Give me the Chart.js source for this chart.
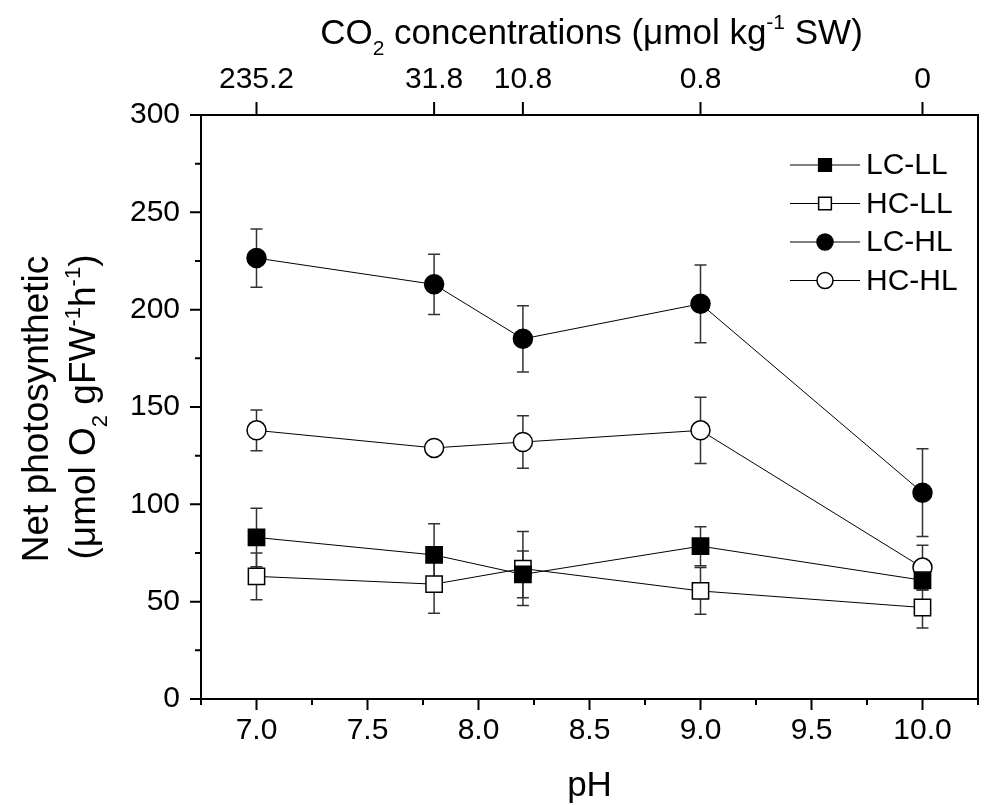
<!DOCTYPE html>
<html lang="en">
<head>
<meta charset="UTF-8">
<title>Net photosynthetic vs pH</title>
<script src="https://cdn.jsdelivr.net/npm/chart.js@4.4.0/dist/chart.umd.min.js"></script>
<style>
  body { margin: 0; background: #fff; }
  #wrap { width: 992px; height: 805px; }
</style>
</head>
<body>
<div id="wrap"><canvas id="chart" width="992" height="805"></canvas></div>
<script>
// pH values and matching CO2 concentrations (top axis)
const phValues = [7.0, 7.8, 8.2, 9.0, 10.0];
const co2Labels = ['235.2', '31.8', '10.8', '0.8', '0'];

// series (mean and error)
const seriesNames = ['LC-LL', 'HC-LL', 'LC-HL', 'HC-HL'];
const lcLL = [83, 74, 64, 78.5, 61];
const lcLLErr = [15, 16, 12, 10, 5];
const hcLL = [63, 59, 67, 55.5, 47];
const hcLLErr = [12, 15, 19, 12, 10.5];
const lcHL = [226.5, 213, 185, 203, 106];
const lcHLErr = [15, 15.5, 17, 20, 22.5];
const hcHL = [138, 129, 132, 138, 67.5];
const hcHLErr = [10.5, 3, 13.5, 17, 11.5];

const FONT = '"Liberation Sans", Arial, sans-serif';

function pts(vals) {
    return vals.map((v, i) => ({ x: phValues[i], y: v }));
}

function makeSet(label, vals, errs, style, fill, radius) {
    return {
        label: label,
        data: pts(vals),
        errors: errs,
        borderColor: '#000',
        borderWidth: 1,
        tension: 0,
        pointStyle: style,
        pointRadius: radius,
        pointBackgroundColor: fill,
        pointBorderColor: '#000',
        pointBorderWidth: 1.5
    };
}

// text with sub/superscripts: segments [text, 'n'|'sub'|'sup']
function richWidth(ctx, segs, size) {
    let w = 0;
    segs.forEach(s => {
        ctx.font = (s[1] === 'n' ? size : Math.round(size * 0.6)) + 'px ' + FONT;
        w += ctx.measureText(s[0]).width;
    });
    return w;
}
function drawRich(ctx, segs, cx, cy, size) {
    let x = cx - richWidth(ctx, segs, size) / 2;
    ctx.textAlign = 'left';
    ctx.textBaseline = 'alphabetic';
    const base = cy + size * 0.36;
    segs.forEach(s => {
        let dy = 0;
        if (s[1] === 'n') ctx.font = size + 'px ' + FONT;
        else ctx.font = Math.round(size * 0.6) + 'px ' + FONT;
        if (s[1] === 'sub') dy = size * 0.32;
        if (s[1] === 'sup') dy = -size * 0.42;
        ctx.fillText(s[0], x, base + dy);
        x += ctx.measureText(s[0]).width;
    });
}

// error bars behind the markers
const errorBars = {
    id: 'errorBars',
    beforeDatasetsDraw(chart) {
        const ctx = chart.ctx, xs = chart.scales.x, ys = chart.scales.y;
        ctx.save();
        ctx.strokeStyle = '#333';
        ctx.lineWidth = 1.5;
        chart.data.datasets.forEach(ds => {
            ds.data.forEach((p, i) => {
                const e = ds.errors[i];
                const px = xs.getPixelForValue(p.x);
                const top = ys.getPixelForValue(p.y + e);
                const bot = ys.getPixelForValue(p.y - e);
                ctx.beginPath();
                ctx.moveTo(px, top); ctx.lineTo(px, bot);
                ctx.moveTo(px - 6, top); ctx.lineTo(px + 6, top);
                ctx.moveTo(px - 6, bot); ctx.lineTo(px + 6, bot);
                ctx.stroke();
            });
        });
        ctx.restore();
    }
};

// frame, outward ticks, titles and legend
const decorations = {
    id: 'decorations',
    afterDraw(chart) {
        const ctx = chart.ctx, a = chart.chartArea;
        ctx.save();
        ctx.strokeStyle = '#000';
        ctx.fillStyle = '#000';
        ctx.lineWidth = 2;
        ctx.strokeRect(a.left, a.top, a.right - a.left, a.bottom - a.top);

        // ticks
        const xs = chart.scales.x, ys = chart.scales.y, xt = chart.scales.x2;
        ctx.lineWidth = 2;
        ctx.beginPath();
        xs.ticks.forEach(t => {
            const px = xs.getPixelForValue(t.value);
            const len = t.label ? 11 : 6;
            ctx.moveTo(px, a.bottom); ctx.lineTo(px, a.bottom + len);
        });
        ys.ticks.forEach(t => {
            const py = ys.getPixelForValue(t.value);
            const len = t.label !== '' ? 11 : 6;
            ctx.moveTo(a.left, py); ctx.lineTo(a.left - len, py);
        });
        xt.ticks.forEach(t => {
            const px = xt.getPixelForValue(t.value);
            ctx.moveTo(px, a.top); ctx.lineTo(px, a.top - 13);
        });
        ctx.stroke();

        // axis titles
        drawRich(ctx, [['CO', 'n'], ['2', 'sub'], [' concentrations (\u03bcmol kg', 'n'], ['-1', 'sup'], [' SW)', 'n']],
            (a.left + a.right) / 2 + 2, 31, 35);
        drawRich(ctx, [['pH', 'n']], (a.left + a.right) / 2, 783, 35);

        ctx.save();
        ctx.translate(35, (a.top + a.bottom) / 2 + 2);
        ctx.rotate(-Math.PI / 2);
        drawRich(ctx, [['Net photosynthetic', 'n']], 0, 0, 37);
        ctx.restore();
        ctx.save();
        ctx.translate(82, (a.top + a.bottom) / 2);
        ctx.rotate(-Math.PI / 2);
        drawRich(ctx, [['(\u03bcmol O', 'n'], ['2', 'sub'], [' gFW', 'n'], ['-1', 'sup'], ['h', 'n'], ['-1', 'sup'], [')', 'n']], 0, 0, 37);
        ctx.restore();

        // legend
        const lx = 790, ly = 165, gap = 38.5;
        chart.data.datasets.forEach((ds, i) => {
            const y = ly + i * gap;
            ctx.lineWidth = 1;
            ctx.strokeStyle = '#000';
            ctx.beginPath();
            ctx.moveTo(lx, y); ctx.lineTo(lx + 70, y);
            ctx.stroke();
            ctx.fillStyle = ds.pointBackgroundColor;
            ctx.lineWidth = 1.5;
            Chart.helpers.drawPoint(ctx, {
                pointStyle: ds.pointStyle,
                radius: ds.pointStyle === 'rect' ? 9 : 8,
                borderWidth: 1.5
            }, lx + 35, y);
            ctx.fillStyle = '#000';
            ctx.font = '30px ' + FONT;
            ctx.textAlign = 'left';
            ctx.textBaseline = 'middle';
            ctx.fillText(ds.label, lx + 76, y + 1);
        });
        ctx.restore();
    }
};

const tickFont = { family: FONT, size: 30 };

new Chart(document.getElementById('chart'), {
    type: 'line',
    data: {
        datasets: [
            makeSet(seriesNames[0], lcLL, lcLLErr, 'rect', '#000', 11.5),
            makeSet(seriesNames[1], hcLL, hcLLErr, 'rect', '#fff', 11.5),
            makeSet(seriesNames[2], lcHL, lcHLErr, 'circle', '#000', 9.5),
            makeSet(seriesNames[3], hcHL, hcHLErr, 'circle', '#fff', 9.5)
        ]
    },
    options: {
        responsive: false,
        animation: false,
        devicePixelRatio: 1,
        layout: { padding: { left: 0, right: 6, top: 0, bottom: 0 } },
        plugins: { legend: { display: false }, tooltip: { enabled: false } },
        scales: {
            x: {
                type: 'linear', position: 'bottom', min: 6.75, max: 10.25,
                grid: { display: false, drawTicks: false },
                border: { display: false },
                ticks: {
                    stepSize: 0.25, autoSkip: false, maxRotation: 0, padding: 14,
                    color: '#000', font: tickFont,
                    callback: v => (Math.abs(v * 2 - Math.round(v * 2)) < 1e-6 && v >= 7 && v <= 10) ? v.toFixed(1) : ''
                },
                afterFit: s => { s.height = 106; }
            },
            x2: {
                type: 'linear', position: 'top', min: 6.75, max: 10.25,
                grid: { display: false, drawTicks: false },
                border: { display: false },
                afterBuildTicks: s => { s.ticks = phValues.map(v => ({ value: v })); },
                ticks: {
                    autoSkip: false, maxRotation: 0, padding: 17,
                    color: '#000', font: tickFont,
                    callback: (v, i) => co2Labels[i]
                },
                afterFit: s => { s.height = 115; }
            },
            y: {
                type: 'linear', min: 0, max: 300,
                grid: { display: false, drawTicks: false },
                border: { display: false },
                ticks: {
                    stepSize: 25, autoSkip: false, padding: 21,
                    color: '#000', font: tickFont,
                    callback: v => (v % 50 === 0 ? String(v) : '')
                },
                afterFit: s => { s.width = 201; }
            }
        }
    },
    plugins: [errorBars, decorations]
});
</script>
</body>
</html>
